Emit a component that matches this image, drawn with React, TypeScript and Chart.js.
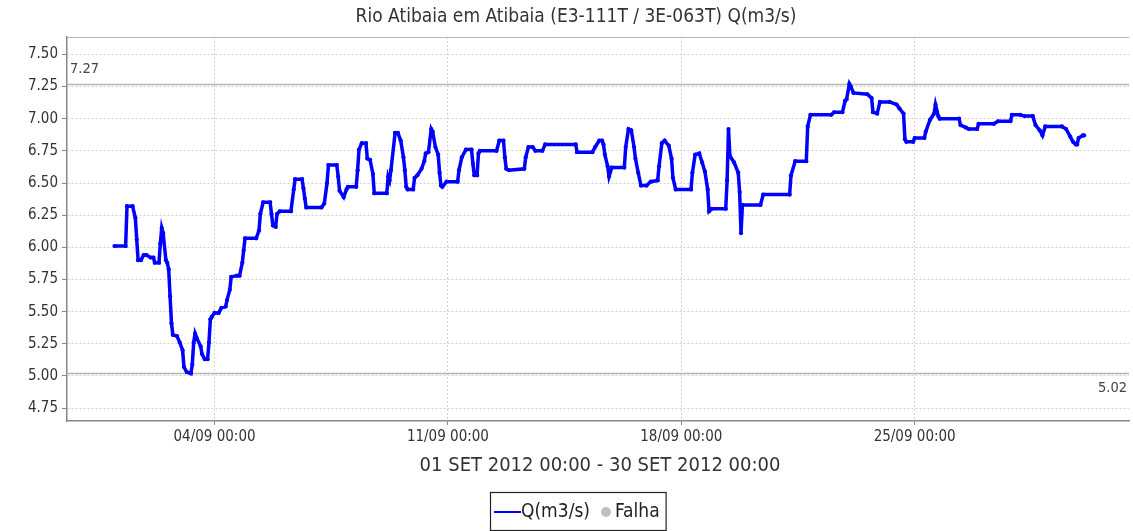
import React, { useEffect, useRef } from "react";
import { Chart, registerables } from "chart.js";

Chart.register(...registerables);

// Hours elapsed since 01/09/2012 00:00
const hours = [
  0, 8, 9, 13, 15, 16, 17, 19, 21, 23, 26, 28, 29, 32, 33, 34, 35, 37, 38, 39,
  40, 41, 42, 45, 47, 49, 50, 52, 55, 56, 57, 58, 59, 62, 63, 65, 67, 68, 69, 70,
  72, 75, 77, 80, 81, 83, 84, 88, 90, 92, 93, 94, 102, 104, 105, 107, 112, 113, 114, 116,
  117, 119, 127, 129, 130, 135, 136, 137, 138, 149, 151, 153, 154, 160, 161, 162, 165, 167, 168, 174,
  175, 176, 178, 181, 182, 184, 186, 187, 196, 197, 198, 199, 202, 204, 206, 208, 209, 210, 211, 215,
  216, 218, 221, 223, 224, 226, 228, 229, 231, 233, 234, 235, 236, 239, 247, 248, 250, 253, 257, 258,
  259, 261, 262, 263, 275, 277, 280, 281, 282, 284, 295, 296, 298, 301, 303, 308, 310, 332, 333, 344,
  346, 349, 351, 352, 353, 355, 356, 358, 367, 368, 370, 372, 374, 375, 377, 379, 383, 386, 391, 392,
  394, 396, 399, 401, 402, 404, 415, 416, 418, 421, 423, 425, 427, 428, 430, 440, 441, 442, 443, 446,
  449, 450, 451, 452, 465, 467, 486, 487, 490, 498, 499, 501, 516, 518, 524, 526, 527, 529, 530, 532,
  542, 545, 546, 549, 551, 558, 563, 565, 568, 569, 570, 575, 576, 583, 584, 587, 590, 591, 593, 594,
  608, 609, 613, 615, 621, 622, 633, 636, 645, 646, 652, 655, 661, 663, 666, 668, 670, 682, 685, 688,
  690, 692, 693, 694, 697, 698,
];

// Q (m3/s)
const flow = [
  6.01, 6.01, 6.32, 6.32, 6.23, 6.06, 5.9, 5.9, 5.94, 5.94, 5.92, 5.92, 5.88, 5.88, 6.03, 6.15, 6.11, 5.9, 5.88, 5.83,
  5.62, 5.41, 5.32, 5.31, 5.26, 5.2, 5.07, 5.03, 5.02, 5.09, 5.26, 5.33, 5.3, 5.23, 5.17, 5.13, 5.13, 5.26, 5.44, 5.46,
  5.49, 5.49, 5.53, 5.54, 5.59, 5.67, 5.77, 5.78, 5.78, 5.88, 5.98, 6.07, 6.07, 6.13, 6.26, 6.35, 6.35, 6.26, 6.17, 6.16,
  6.26, 6.28, 6.28, 6.45, 6.53, 6.53, 6.46, 6.38, 6.31, 6.31, 6.34, 6.5, 6.64, 6.64, 6.55, 6.44, 6.39, 6.45, 6.47, 6.47,
  6.6, 6.76, 6.81, 6.81, 6.69, 6.68, 6.57, 6.42, 6.42, 6.55, 6.52, 6.6, 6.89, 6.89, 6.83, 6.7, 6.6, 6.47, 6.45, 6.45,
  6.54, 6.56, 6.61, 6.67, 6.73, 6.74, 6.92, 6.9, 6.78, 6.72, 6.58, 6.48, 6.47, 6.51, 6.51, 6.6, 6.7, 6.76, 6.76, 6.65,
  6.56, 6.56, 6.73, 6.75, 6.75, 6.83, 6.83, 6.7, 6.61, 6.6, 6.61, 6.7, 6.78, 6.78, 6.75, 6.75, 6.8, 6.8, 6.74, 6.74,
  6.78, 6.83, 6.83, 6.8, 6.72, 6.63, 6.55, 6.62, 6.62, 6.78, 6.92, 6.91, 6.78, 6.69, 6.58, 6.48, 6.48, 6.51, 6.52, 6.63,
  6.81, 6.83, 6.79, 6.69, 6.54, 6.45, 6.45, 6.58, 6.72, 6.73, 6.66, 6.59, 6.45, 6.28, 6.3, 6.3, 6.52, 6.92, 6.71, 6.66,
  6.58, 6.43, 6.11, 6.33, 6.33, 6.41, 6.41, 6.56, 6.67, 6.67, 6.94, 7.03, 7.03, 7.05, 7.05, 7.14, 7.15, 7.27, 7.25, 7.2,
  7.19, 7.16, 7.05, 7.04, 7.13, 7.13, 7.11, 7.08, 7.04, 6.84, 6.82, 6.82, 6.85, 6.85, 6.9, 6.99, 7.04, 7.11, 7.02, 7.0,
  7.0, 6.95, 6.93, 6.92, 6.92, 6.96, 6.96, 6.98, 6.98, 7.03, 7.03, 7.02, 7.02, 6.95, 6.91, 6.87, 6.94, 6.94, 6.92, 6.86,
  6.82, 6.8, 6.8, 6.85, 6.87, 6.87,
];

const xTickHours = [72, 240, 408, 576];
const xTickLabels = ["04/09 00:00", "11/09 00:00", "18/09 00:00", "25/09 00:00"];
const yTicks = [4.75, 5.0, 5.25, 5.5, 5.75, 6.0, 6.25, 6.5, 6.75, 7.0, 7.25, 7.5];
const maxFlow = 7.27;
const minFlow = 5.02;

const chartTitle = "Rio Atibaia em Atibaia (E3-111T / 3E-063T) Q(m3/s)";
const periodLabel = "01 SET 2012 00:00 - 30 SET 2012 00:00";
const seriesName = "Q(m3/s)";
const failName = "Falha";

const FONT = "'DejaVu Sans Condensed', 'DejaVu Sans', sans-serif";

const decorPlugin = {
  id: "decor",
  beforeDatasetsDraw(chart: any) {
    const { ctx, chartArea, scales } = chart;
    const y = scales.y;
    ctx.save();
    ctx.strokeStyle = "#b4b4b4";
    ctx.lineWidth = 1.5;
    [maxFlow, minFlow].forEach((v) => {
      const py = Math.round(y.getPixelForValue(v)) + 0.5;
      ctx.beginPath();
      ctx.moveTo(chartArea.left, py);
      ctx.lineTo(chartArea.right, py);
      ctx.stroke();
    });
    // top border
    ctx.strokeStyle = "#b8b8b8";
    ctx.lineWidth = 1;
    ctx.beginPath();
    ctx.moveTo(chartArea.left, chartArea.top + 0.5);
    ctx.lineTo(chartArea.right, chartArea.top + 0.5);
    ctx.stroke();
    ctx.fillStyle = "#444";
    ctx.font = `14.5px ${FONT}`;
    ctx.textBaseline = "middle";
    ctx.textAlign = "left";
    ctx.fillText(maxFlow.toFixed(2), chartArea.left + 3, y.getPixelForValue(maxFlow) - 15);
    ctx.textAlign = "right";
    ctx.fillText(minFlow.toFixed(2), chartArea.right - 2, y.getPixelForValue(minFlow) + 15);
    ctx.restore();
  },
  afterDraw(chart: any) {
    const { ctx } = chart;
    ctx.save();
    ctx.fillStyle = "#333";
    ctx.textBaseline = "middle";
    ctx.textAlign = "center";
    ctx.font = `19px ${FONT}`;
    ctx.fillText(chartTitle, 576, 17);
    ctx.font = `20px ${FONT}`;
    ctx.fillText(periodLabel, 600, 466);

    // legend
    ctx.font = `19px ${FONT}`;
    const w1 = ctx.measureText(seriesName).width;
    const w2 = ctx.measureText(failName).width;
    const lineLen = 27;
    const gap = 10;
    const dot = 12;
    const total = 4 + lineLen + w1 + gap + dot + 3 + w2 + 6;
    const left = 490;
    const top = 492;
    const h = 38;
    ctx.strokeStyle = "#222";
    ctx.lineWidth = 1.2;
    ctx.strokeRect(left + 0.5, top + 0.5, total, h);
    const cy = top + h / 2 + 1;
    let x = left + 4;
    ctx.strokeStyle = "#0000ff";
    ctx.lineWidth = 2;
    ctx.beginPath();
    ctx.moveTo(x, cy);
    ctx.lineTo(x + lineLen, cy);
    ctx.stroke();
    x += lineLen;
    ctx.textAlign = "left";
    ctx.fillStyle = "#222";
    ctx.fillText(seriesName, x, cy);
    x += w1 + gap;
    ctx.fillStyle = "#c0c0c0";
    ctx.beginPath();
    ctx.arc(x + dot / 2, cy, 5, 0, Math.PI * 2);
    ctx.fill();
    x += dot + 3;
    ctx.fillStyle = "#222";
    ctx.fillText(failName, x, cy);
    ctx.restore();
  },
};

export default function App() {
  const ref = useRef<HTMLCanvasElement | null>(null);

  useEffect(() => {
    if (!ref.current) return;
    const points = hours.map((h, i) => ({ x: h, y: flow[i] }));
    const chart = new Chart(ref.current, {
      type: "line",
      data: {
        datasets: [
          {
            label: seriesName,
            data: points,
            borderColor: "#0000ff",
            backgroundColor: "#0000ff",
            borderWidth: 3.5,
            pointRadius: 2.1,
            pointBorderWidth: 0,
            pointBackgroundColor: "#0000ff",
            tension: 0,
            fill: false,
          },
        ],
      },
      options: {
        responsive: false,
        animation: false,
        events: [],
        layout: { padding: { top: 37, right: 1, left: 0, bottom: 0 } },
        plugins: {
          legend: { display: false },
          title: { display: false },
          tooltip: { enabled: false },
        },
        scales: {
          x: {
            type: "linear",
            min: -34.2,
            max: 730.3,
            afterFit: (s: any) => {
              s.height = 110;
            },
            afterBuildTicks: (s: any) => {
              s.ticks = xTickHours.map((v) => ({ value: v }));
            },
            ticks: {
              autoSkip: false,
              maxRotation: 0,
              padding: 3,
              color: "#333",
              font: { family: FONT, size: 15 },
              callback: (v: any) => {
                const i = xTickHours.indexOf(Number(v));
                return i >= 0 ? xTickLabels[i] : "";
              },
            },
            grid: {
              color: "#d0d0d0",
              lineWidth: 1,
              tickLength: 4,
              tickColor: "#888",
              tickBorderDash: [],
              borderDash: [2, 2],
            } as any,
            border: { display: true, color: "#888", width: 1.5, dash: [2, 2] } as any,
          },
          y: {
            type: "linear",
            min: 4.65,
            max: 7.635,
            afterFit: (s: any) => {
              s.width = 67;
            },
            afterBuildTicks: (s: any) => {
              s.ticks = yTicks.map((v) => ({ value: v }));
            },
            ticks: {
              padding: 4,
              color: "#333",
              font: { family: FONT, size: 15 },
              callback: (v: any) => Number(v).toFixed(2),
            },
            grid: {
              color: "#d0d0d0",
              lineWidth: 1,
              tickLength: 5,
              tickColor: "#888",
              tickBorderDash: [],
              borderDash: [2, 2],
            } as any,
            border: { display: true, color: "#888", width: 1.5, dash: [2, 2] } as any,
          },
        },
      },
      plugins: [decorPlugin],
    });
    return () => chart.destroy();
  }, []);

  return (
    <div style={{ position: "absolute", left: 0, top: 0, width: 1133, height: 531, background: "#fff" }}>
      <canvas ref={ref} width={1133} height={531} />
    </div>
  );
}
